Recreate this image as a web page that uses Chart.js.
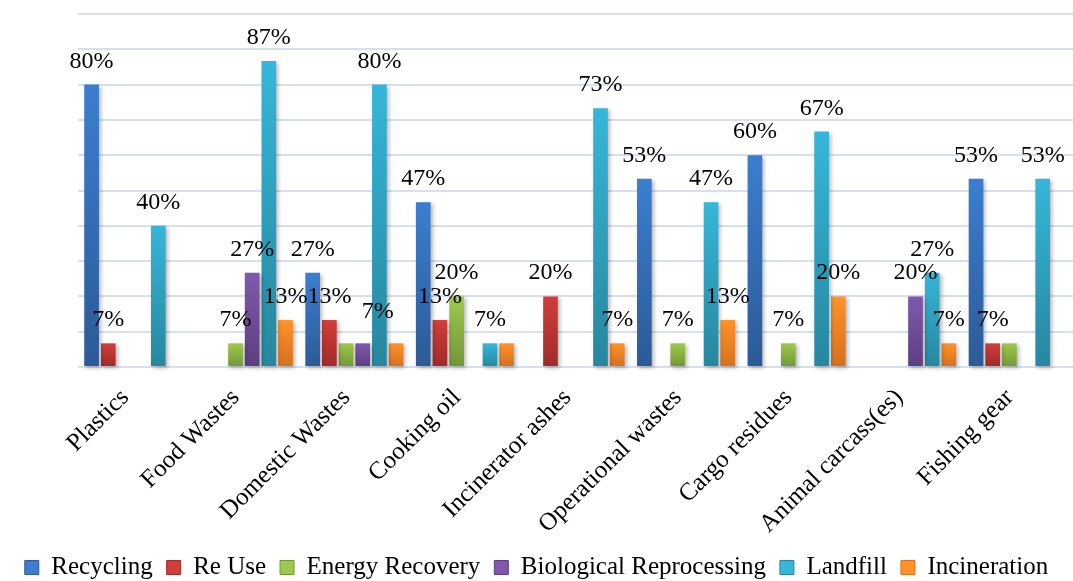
<!DOCTYPE html>
<html>
<head>
<meta charset="utf-8">
<script src="https://cdn.jsdelivr.net/npm/chart.js@4"></script>
<style>
  html, body { margin: 0; padding: 0; background: #fff; }
  #wrap { width: 1073px; height: 581px; }
</style>
</head>
<body>
<div id="wrap"><canvas id="bar-chart"></canvas></div>
<script>
const categories = ['Plastics', 'Food Wastes', 'Domestic Wastes', 'Cooking oil', 'Incinerator ashes',
    'Operational wastes', 'Cargo residues', 'Animal carcass(es)', 'Fishing gear'];

// percentages
const recycling   = [80, 0, 26.7, 46.7, 0, 53.3, 60, 0, 53.3];
const reUse       = [6.7, 0, 13.3, 13.3, 20, 0, 0, 0, 6.7];
const energyRec   = [0, 6.7, 6.7, 20, 0, 6.7, 6.7, 0, 6.7];
const bioReproc   = [0, 26.7, 6.7, 0, 0, 0, 0, 20, 0];
const landfill    = [40, 86.7, 80, 6.7, 73.3, 46.7, 66.7, 26.7, 53.3];
const incineration = [0, 13.3, 6.7, 6.7, 6.7, 13.3, 20, 6.7, 0];

const yTicks = [0, 10, 20, 30, 40, 50, 60, 70, 80, 90, 100];

// labels that the original leaves out (dataset, category) and one that was moved
const hiddenLabels = ['2,2', '5,2', '5,3', '2,8'];
const movedLabels = { '3,2': [15, -8] };

const FONT = '"Liberation Serif", "Times New Roman", serif';

// [top, bottom] gradient colours per series
const colors = [
    ['#3b7ed0', '#2c5a96'],
    ['#d23d3a', '#9f2b2a'],
    ['#9fc94c', '#719638'],
    ['#8059ad', '#5d3e80'],
    ['#36b6d9', '#26879e'],
    ['#fd932a', '#d66f1e']
];

function barFill(idx) {
    return function (c) {
        const chart = c.chart;
        const y = chart.scales && chart.scales.y;
        if (c.dataIndex === undefined || !chart.chartArea || !y) return colors[idx][0];
        const v = c.dataset.data[c.dataIndex];
        const top = y.getPixelForValue(v);
        const bot = y.getPixelForValue(0);
        if (!isFinite(top) || bot - top < 1) return colors[idx][0];
        const g = chart.ctx.createLinearGradient(0, top, 0, bot);
        g.addColorStop(0, colors[idx][0]);
        g.addColorStop(1, colors[idx][1]);
        return g;
    };
}

const series = [
    ['Recycling', recycling],
    ['Re Use', reUse],
    ['Energy Recovery', energyRec],
    ['Biological Reprocessing', bioReproc],
    ['Landfill', landfill],
    ['Incineration', incineration]
];

const datasets = series.map((s, i) => ({
    label: s[0],
    data: s[1],
    backgroundColor: barFill(i),
    borderWidth: 0,
    clip: false,
    categoryPercentage: 0.905,
    barPercentage: 0.88
}));

// soft shadow behind the bars, like the office chart
const barShadow = {
    id: 'barShadow',
    beforeDatasetsDraw(chart) {
        const ctx = chart.ctx;
        ctx.save();
        ctx.shadowColor = 'rgba(0,0,0,0.28)';
        ctx.shadowBlur = 4;
        ctx.shadowOffsetX = 2;
        ctx.shadowOffsetY = 2;
    },
    afterDatasetsDraw(chart) {
        chart.ctx.restore();
    }
};

const valueLabels = {
    id: 'valueLabels',
    afterDatasetsDraw(chart) {
        const ctx = chart.ctx;
        ctx.save();
        ctx.font = '24px ' + FONT;
        ctx.fillStyle = '#000';
        ctx.textAlign = 'center';
        ctx.textBaseline = 'alphabetic';
        chart.data.datasets.forEach((ds, di) => {
            chart.getDatasetMeta(di).data.forEach((bar, i) => {
                const v = ds.data[i];
                const key = di + ',' + i;
                if (!v || hiddenLabels.includes(key)) return;
                const off = movedLabels[key] || [0, 0];
                ctx.fillText(Math.round(v) + '%', bar.x + off[0], bar.y - 17 + off[1]);
            });
        });
        ctx.restore();
    }
};

const config = {
    type: 'bar',
    data: { labels: categories, datasets: datasets },
    options: {
        responsive: false,
        animation: false,
        layout: { padding: { left: 0, right: 0, top: 14, bottom: -9 } },
        plugins: {
            tooltip: { enabled: false },
            legend: {
                position: 'bottom',
                labels: {
                    boxWidth: 14,
                    boxHeight: 14,
                    padding: 14,
                    color: '#000',
                    font: { family: FONT, size: 25 },
                    generateLabels: chart => chart.data.datasets.map((ds, i) => ({
                        text: ds.label,
                        fillStyle: colors[i][0],
                        strokeStyle: colors[i][1],
                        lineWidth: 1,
                        fontColor: '#000',
                        hidden: false,
                        datasetIndex: i
                    }))
                }
            }
        },
        scales: {
            x: {
                grid: { display: false, drawTicks: false },
                border: { display: false },
                ticks: {
                    autoSkip: false,
                    minRotation: 45,
                    maxRotation: 45,
                    padding: 16,
                    labelOffset: -8,
                    color: '#000',
                    font: { family: FONT, size: 25 }
                },
                afterFit: s => { s.height = 174; }
            },
            y: {
                min: 0,
                max: 100,
                afterBuildTicks: s => { s.ticks = yTicks.map(v => ({ value: v })); },
                afterFit: s => { s.width = 78; },
                grid: { color: '#d6e0f0', lineWidth: 2, drawTicks: false },
                border: { display: false },
                ticks: { display: false }
            }
        }
    },
    plugins: [barShadow, valueLabels]
};

const canvas = document.getElementById('bar-chart');
canvas.width = 1073;
canvas.height = 581;
new Chart(canvas, config);
</script>
</body>
</html>
